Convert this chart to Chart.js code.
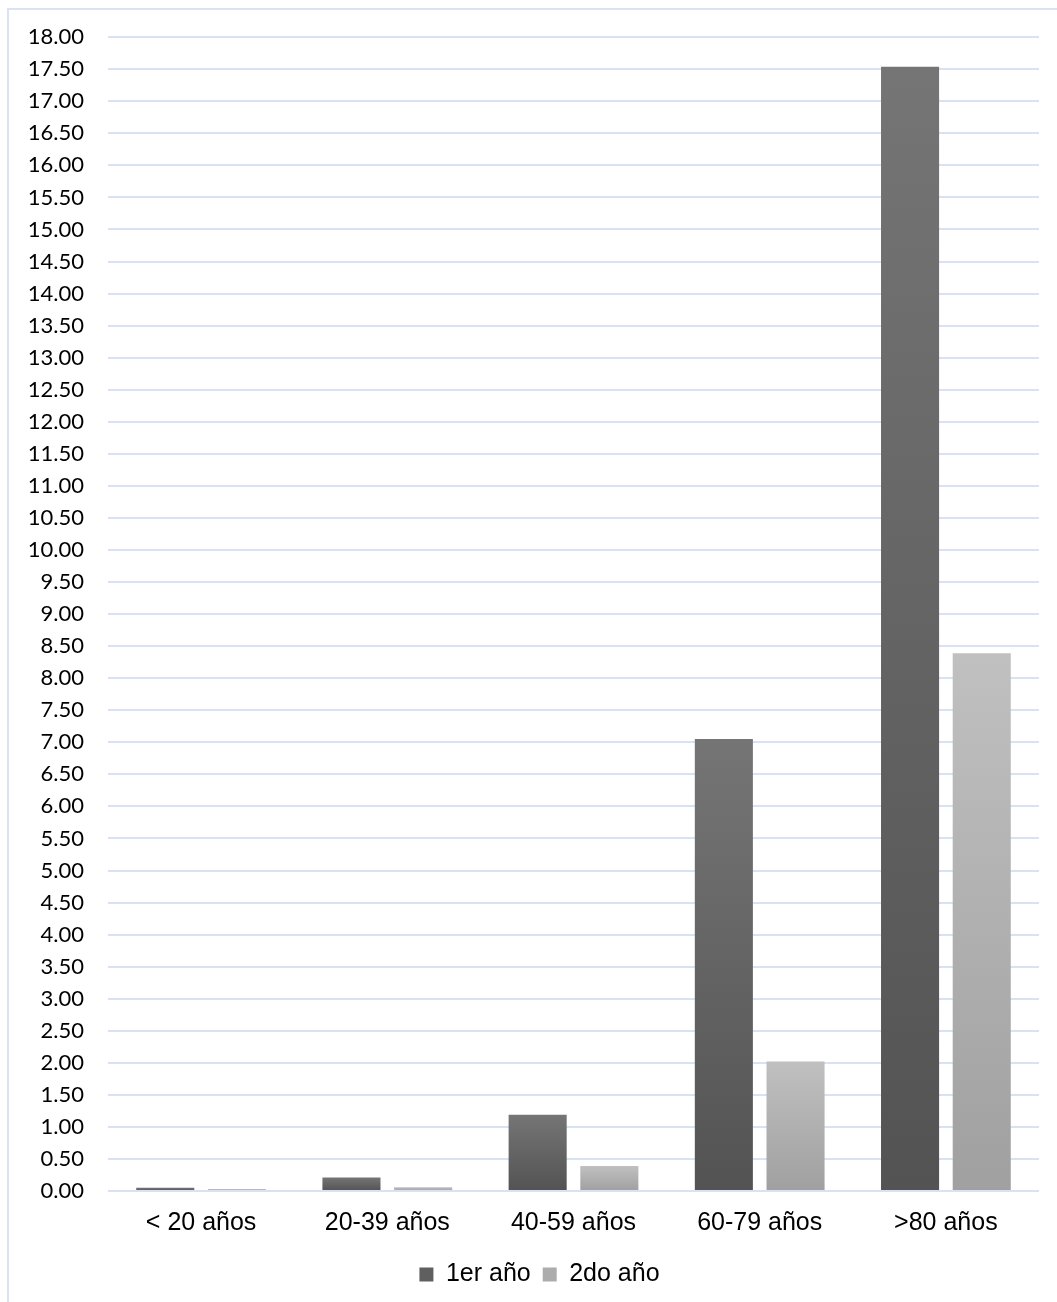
<!DOCTYPE html>
<html>
<head>
<meta charset="utf-8">
<script src="https://cdn.jsdelivr.net/npm/chart.js@4/dist/chart.umd.min.js"></script>
<style>
  html, body { margin: 0; padding: 0; background: #ffffff; }
  #wrap { position: relative; width: 1057px; height: 1302px; overflow: hidden; }
  #frame { position: absolute; left: 7px; top: 8px; width: 1070px; height: 1320px; border: 2px solid #dae3f3; box-sizing: border-box; }
  #c { position: absolute; left: 0; top: 0; }
</style>
</head>
<body>
<div id="wrap">
  <div id="frame"></div>
  <canvas id="c" width="1057" height="1302"></canvas>
</div>
<script>
const categories = ["< 20 años", "20-39 años", "40-59 años", "60-79 años", ">80 años"];
const seriesNames = ["1er año", "2do año"];
const values1er = [0.05, 0.21, 1.19, 7.05, 17.54];
const values2do = [0.03, 0.06, 0.39, 2.02, 8.39];
const yMin = 0;
const yMax = 18;
const yStep = 0.5;

function barGradient(topColor, bottomColor, solid) {
  return function (ctx) {
    const chart = ctx.chart;
    if (!chart.chartArea || ctx.type !== 'data') return solid;
    const ys = chart.scales.y;
    const top = ys.getPixelForValue(ctx.raw);
    const base = ys.getPixelForValue(0);
    if (!isFinite(top) || !isFinite(base) || Math.abs(base - top) < 1) return solid;
    const g = chart.ctx.createLinearGradient(0, top, 0, base);
    g.addColorStop(0, topColor);
    g.addColorStop(1, bottomColor);
    return g;
  };
}

const legendShift = {
  id: 'legendShift',
  afterLayout(chart) {
    if (chart.legend) {
      chart.legend.left += 20;
      chart.legend.right += 20;
      chart.legend.top += 13;
      chart.legend.bottom += 13;
    }
  }
};

new Chart(document.getElementById('c'), {
  type: 'bar',
  data: {
    labels: categories,
    datasets: [
      {
        label: seriesNames[0],
        data: values1er,
        backgroundColor: barGradient('#757575', '#535353', '#606060'),
        borderWidth: 0,
        categoryPercentage: 0.77,
        barPercentage: 0.81
      },
      {
        label: seriesNames[1],
        data: values2do,
        backgroundColor: barGradient('#c0c0c0', '#a0a0a0', '#adadad'),
        borderWidth: 0,
        categoryPercentage: 0.77,
        barPercentage: 0.81
      }
    ]
  },
  plugins: [legendShift],
  options: {
    responsive: false,
    animation: false,
    devicePixelRatio: 1,
    layout: { padding: { top: 37, right: 18, bottom: 18, left: 0 } },
    plugins: {
      legend: {
        display: true,
        position: 'bottom',
        labels: {
          color: '#000000',
          font: { family: '"Liberation Sans", Arial, sans-serif', size: 25 },
          boxWidth: 14,
          boxHeight: 14,
          padding: 12,
          generateLabels: function (chart) {
            const fills = ['#5f5f5f', '#acacac'];
            return chart.data.datasets.map((ds, i) => ({
              text: ds.label,
              fillStyle: fills[i],
              strokeStyle: fills[i],
              lineWidth: 0,
              hidden: false,
              datasetIndex: i
            }));
          }
        }
      },
      tooltip: { enabled: false }
    },
    scales: {
      x: {
        grid: { display: false, drawTicks: false },
        border: { display: false },
        ticks: {
          color: '#000000',
          font: { family: '"Liberation Sans", Arial, sans-serif', size: 25 },
          padding: 17,
          maxRotation: 0,
          autoSkip: false
        },
        afterFit: function (scale) { scale.height = 46; }
      },
      y: {
        min: yMin,
        max: yMax,
        grid: { color: '#d9e2f3', lineWidth: 2, drawTicks: false },
        border: { display: false },
        ticks: {
          stepSize: yStep,
          color: '#000000',
          font: { family: 'Lato, "Open Sans", sans-serif', size: 22 },
          padding: 24,
          autoSkip: false,
          callback: function (v) { return Number(v).toFixed(2); }
        },
        afterFit: function (scale) { scale.width = 108; }
      }
    }
  }
});
</script>
</body>
</html>
